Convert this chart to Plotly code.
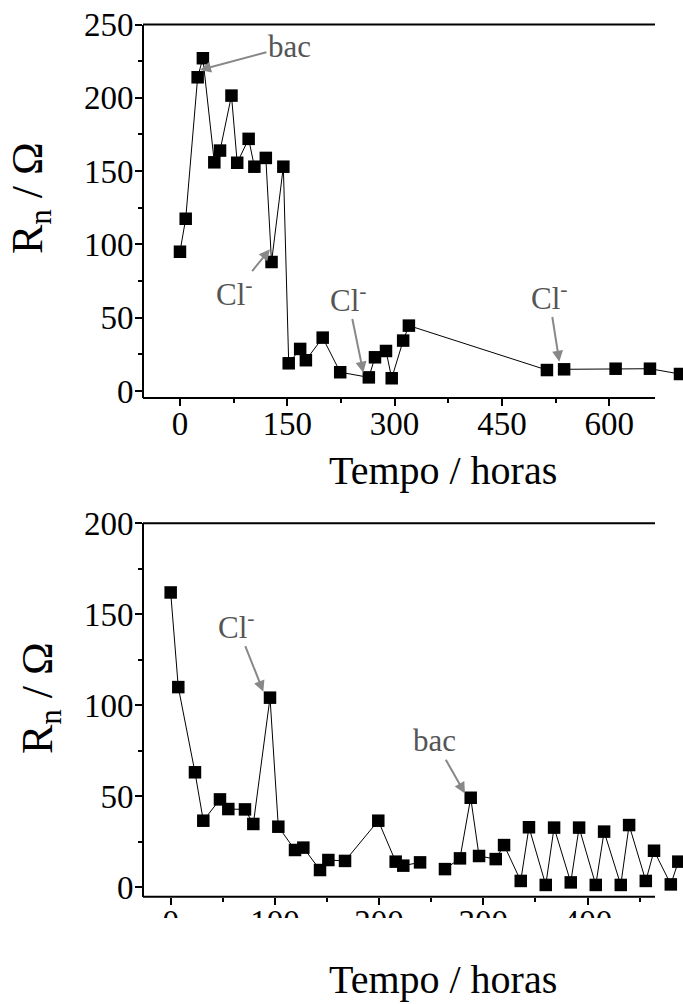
import plotly.graph_objects as go

# ---------------- data ----------------
# Top panel
t_top = [0, 8, 24.7, 32, 48, 56, 72, 80, 96, 104, 120, 128, 144.5, 152, 168, 176,
         199.5, 224, 264, 272.6, 288, 296, 312, 320, 513, None, 537, 609, 657, 699]
r_top = [95, 117.5, 214, 227, 156, 164, 201.5, 155.7, 172, 153, 159, 88, 153, 18.9, 28.7, 21,
         36.4, 12.8, 9.3, 23, 27.3, 8.7, 34.4, 44.6, 14.3, None, 14.8, 15.2, 15.2, 11.6]

# Bottom panel
t_bot = [0, 7.3, 23.3, 31.3, 47.3, 55.3, 71.3, 79.3, 95.3, 103.3, 119.3, 127.3, 143.3, 151.3,
         167.3, 199.2, 215.9, 223.2, 239.3, None, 263.2, 277.6, 287.9, 295.9, 311.9, 319.9, 335.9,
         343.8, 359.9, 367.9, 383.9, 391.9, 407.9, 415.9, 431.9, 439.9, 455.9, 463.8, 479.9, 487.1]
r_bot = [162, 110, 63.2, 36.6, 48.3, 43, 42.8, 34.8, 104.2, 33.3, 20.5, 21.8, 9.5, 15,
         14.5, 36.6, 14.1, 11.9, 13.7, None, 10, 15.9, 49.2, 17.2, 15.5, 23.2, 3.5,
         33, 1.3, 32.8, 2.7, 32.8, 1.3, 30.6, 1.3, 34.2, 3.5, 20.1, 1.6, 14.1]

top_xticks = [0, 150, 300, 450, 600]
top_xminor = [75, 225, 375, 525]
top_yticks = [0, 50, 100, 150, 200, 250]
top_yminor = [25, 75, 125, 175, 225]
bot_xticks = [0, 100, 200, 300, 400]
bot_xminor = [50, 150, 250, 350, 450]
bot_yticks = [0, 50, 100, 150, 200]
bot_yminor = [25, 75, 125, 175]

x_title = "Tempo / horas"
y_title = "R<sub>n</sub> / Ω"

# ---------------- layout helpers ----------------
W, H = 683, 1004
FONT = "Liberation Serif"


def px(p):
    return p / W


def py(p):
    return 1 - p / H


fig = go.Figure()
marker = dict(symbol="square", size=12.5, color="black")
line = dict(color="black", width=1)
fig.add_trace(go.Scatter(x=t_top, y=r_top, mode="lines+markers", marker=marker, line=line,
                         xaxis="x", yaxis="y", cliponaxis=False, connectgaps=False,
                         showlegend=False))
fig.add_trace(go.Scatter(x=t_bot, y=r_bot, mode="lines+markers", marker=marker, line=line,
                         xaxis="x2", yaxis="y2", cliponaxis=False, connectgaps=False,
                         showlegend=False))

tickfont = dict(family=FONT, size=33, color="black")
common_x = dict(showgrid=False, zeroline=False, showline=False, ticks="outside", ticklen=7,
                tickwidth=2, tickcolor="black", tickfont=tickfont, ticklabelstandoff=-11)
common_y = dict(showgrid=False, zeroline=False, showline=True, linewidth=2, linecolor="black",
                ticks="outside", ticklen=7, tickwidth=2, tickcolor="black", tickfont=tickfont,
                ticklabelstandoff=-5)

top_xrange = [-50.3, 703.2]
bot_xrange = [-25.6, 491.6]

fig.update_layout(
    width=W, height=H, margin=dict(l=0, r=0, t=0, b=0, autoexpand=False),
    paper_bgcolor="white", plot_bgcolor="rgba(0,0,0,0)", showlegend=False,
    xaxis=dict(domain=[px(144), 1], range=top_xrange, anchor="y", tickvals=top_xticks,
               minor=dict(tickvals=top_xminor, ticks="outside", ticklen=4, tickwidth=2,
                          tickcolor="black"), **common_x),
    yaxis=dict(domain=[py(398), py(24.5)], range=[-4.77, 250], anchor="x", tickvals=top_yticks,
               minor=dict(tickvals=top_yminor, ticks="outside", ticklen=4, tickwidth=2,
                          tickcolor="black"), **common_y),
    xaxis3=dict(overlaying="x", side="top", anchor="y", range=top_xrange, tickvals=top_xticks,
                showticklabels=False, showgrid=False, zeroline=False, showline=False,
                ticks="inside", ticklen=7, tickwidth=2, tickcolor="black",
                minor=dict(tickvals=top_xminor, ticks="inside", ticklen=4, tickwidth=2,
                           tickcolor="black")),
    xaxis2=dict(domain=[px(144), 1], range=bot_xrange, anchor="y2", tickvals=bot_xticks,
                minor=dict(tickvals=bot_xminor, ticks="outside", ticklen=4, tickwidth=2,
                           tickcolor="black"), **common_x),
    yaxis2=dict(domain=[py(896.7), py(523.3)], range=[-5.16, 200], anchor="x2",
                tickvals=bot_yticks,
                minor=dict(tickvals=bot_yminor, ticks="outside", ticklen=4, tickwidth=2,
                           tickcolor="black"), **common_y),
    xaxis4=dict(overlaying="x2", side="top", anchor="y2", range=bot_xrange, tickvals=bot_xticks,
                showticklabels=False, showgrid=False, zeroline=False, showline=False,
                ticks="inside", ticklen=7, tickwidth=2, tickcolor="black",
                minor=dict(tickvals=bot_xminor, ticks="inside", ticklen=4, tickwidth=2,
                           tickcolor="black")),
)

shapes = []
# axis frame lines (bottom and top), ending before the right edge
for yy in (398, 24.5, 896.7, 523.3):
    shapes.append(dict(type="line", xref="paper", yref="paper", x0=px(143), x1=px(655),
                       y0=py(yy), y1=py(yy), line=dict(color="black", width=2), layer="above"))
# clipped tick labels of the lower panel
shapes.append(dict(type="rect", xref="paper", yref="paper", x0=px(120), x1=1,
                   y0=py(950), y1=py(918), fillcolor="white", line=dict(width=0), layer="above"))
fig.update_layout(shapes=shapes)

annots = []
titlefont = dict(family=FONT, size=40, color="black")
annots.append(dict(text=x_title, xref="paper", yref="paper", x=px(443), y=py(470),
                   showarrow=False, font=titlefont, xanchor="center", yanchor="middle"))
annots.append(dict(text=x_title, xref="paper", yref="paper", x=px(443), y=0,
                   showarrow=False, font=titlefont, xanchor="center", yanchor="bottom"))
ytf = dict(family=FONT, size=44, color="black")
annots.append(dict(text=y_title, xref="paper", yref="paper", x=px(30), y=py(198),
                   textangle=-90, showarrow=False, font=ytf, xanchor="center", yanchor="middle"))
annots.append(dict(text=y_title, xref="paper", yref="paper", x=px(40), y=py(698),
                   textangle=-90, showarrow=False, font=ytf, xanchor="center", yanchor="middle"))

lblfont = dict(family=FONT, size=31, color="#555555")
# (label, xref, yref, text centre, arrow head)
labels = [
    ("bac", "x", "y", (153, 235.3), (28, 219)),
    ("Cl<sup>-</sup>", "x", "y", (76.9, 67.5), (125.8, 96.7)),
    ("Cl<sup>-</sup>", "x", "y", (234.9, 63.4), (256.3, 12.5)),
    ("Cl<sup>-</sup>", "x", "y", (515.9, 64.8), (530.3, 20)),
    ("Cl<sup>-</sup>", "x2", "y2", (63.6, 144.1), (88.9, 107.5)),
    ("bac", "x2", "y2", (253.6, 80.5), (282.4, 51.6)),
]
for txt, xr, yr, tp, head in labels:
    annots.append(dict(text=txt, xref=xr, yref=yr, x=head[0], y=head[1], axref=xr, ayref=yr,
                       ax=tp[0], ay=tp[1], showarrow=True, arrowhead=2, arrowsize=1.1,
                       arrowwidth=2, arrowcolor="#888888", standoff=0, startstandoff=0,
                       font=lblfont))
fig.update_layout(annotations=annots)

fig.write_html("out.html", config={"displayModeBar": False},
               post_script="document.body.style.margin='0px';document.body.style.overflow='hidden';")
